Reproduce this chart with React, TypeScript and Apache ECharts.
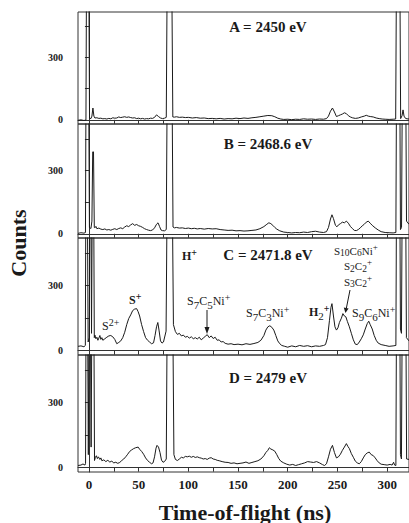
import React, { useEffect, useRef } from "react";
import * as echarts from "echarts";

// ---- data: [time-of-flight (ns), counts] ----
const seriesA: number[][] = [
  [-11,-2],[-8,0],[-5,-3],[-3,-1],[-2.3,900],[-0.3,900],[0.6,8],[2,6],[3,18],[4,57],[5,18],[6,9],[8,10],[10,7],[12,8],[14,5],[16,6],[18,4],[20,7],[22,5],[24,10],[26,8],[28,9],[30,14],[32,11],[34,13],[36,15],[38,12],[40,14],[42,11],[44,9],[46,10],[48,6],[50,8],[52,5],[54,7],[56,4],[58,6],[60,5],[62,8],[64,7],[66,12],[68,24],[70,16],[72,9],[74,6],[76,8],[77.8,12],[79,900],[83,900],[84.4,14],[86,13],[88,15],[91,12],[94,13],[97,11],[100,12],[104,9],[108,11],[112,8],[116,9],[120,6],[124,7],[128,5],[132,7],[136,4],[140,6],[144,5],[148,8],[152,6],[156,9],[160,7],[164,10],[168,12],[172,15],[176,18],[180,21],[184,20],[187,15],[190,8],[193,4],[196,2],[200,3],[204,1],[208,3],[212,2],[216,5],[220,3],[224,4],[228,2],[232,4],[236,3],[239,6],[241,18],[243,42],[245,57],[247,38],[249,16],[251,20],[253,24],[255,28],[257,34],[259,30],[261,20],[263,14],[265,10],[268,7],[271,9],[274,14],[277,18],[279,22],[281,18],[283,16],[286,14],[289,9],[292,6],[295,4],[298,3],[302,2],[306,3],[308.6,4],[309.6,900],[312.6,900],[313.6,6],[315,20],[316,48],[317,18],[318.5,7],[320,5],[322,4]
];
const seriesB: number[][] = [
  [-11,2],[-8,5],[-5,3],[-3.5,6],[-2.8,900],[-0.5,900],[0.5,30],[2,25],[3,60],[3.8,388],[4.6,388],[5.4,30],[6,28],[7,35],[8,24],[10,27],[12,22],[14,20],[16,23],[18,18],[20,20],[22,17],[24,21],[26,24],[28,20],[30,25],[32,28],[34,24],[36,32],[38,38],[40,34],[42,42],[44,48],[46,40],[48,44],[50,38],[52,35],[54,30],[56,24],[58,20],[60,17],[62,15],[64,18],[66,28],[68,45],[69.5,52],[71,35],[72.5,18],[74,15],[76,14],[77.8,20],[79,900],[83.3,900],[84.6,32],[86,28],[88,30],[91,27],[94,28],[97,25],[100,27],[103,24],[106,26],[109,23],[112,25],[116,22],[120,25],[124,23],[128,24],[132,20],[136,18],[140,16],[144,17],[148,14],[152,15],[156,13],[160,14],[164,16],[168,18],[172,24],[176,34],[179,45],[181,52],[183,48],[185,40],[187,30],[189,22],[192,14],[196,8],[200,6],[204,4],[208,6],[212,5],[216,8],[220,6],[224,10],[228,12],[232,8],[236,6],[239,10],[241,30],[243,70],[244.5,90],[246,72],[248,40],[249.5,33],[251,42],[253,48],[255,55],[257,52],[259,60],[261,50],[263,35],[265,25],[267,16],[269,15],[271,20],[273,28],[275,38],[277,45],[279,55],[281,60],[283,50],[285,40],[288,28],[291,18],[294,10],[298,6],[302,5],[306,4],[308.8,6],[309.6,900],[312.6,900],[313.4,20],[314.5,30],[315.5,900],[318.5,900],[319.5,60],[322,45]
];
const seriesC: number[][] = [
  [-11,20],[-8,22],[-5,18],[-3.6,24],[-3.0,900],[-1.8,900],[-0.8,40],[0.4,60],[1.0,900],[1.8,900],[2.6,80],[3.6,900],[4.6,900],[5.4,60],[6,72],[7,55],[8,62],[9,48],[10,58],[11,70],[12,52],[13,60],[14,48],[16,55],[18,62],[20,68],[22,70],[24,64],[26,52],[28,32],[30,38],[32,45],[34,60],[36,85],[38,120],[40,148],[42,165],[44,185],[46,192],[48,194],[49.5,180],[51,160],[53,120],[55,88],[57,60],[59,48],[61,40],[63,32],[65,36],[66.5,70],[68,110],[69.3,130],[70.5,95],[72,45],[73.5,35],[75,40],[77.6,90],[79,900],[83.5,900],[85,120],[87,88],[89,75],[91,80],[93,68],[95,72],[97,62],[99,66],[101,58],[103,64],[105,55],[107,60],[109,54],[111,62],[113,50],[115,58],[117,66],[119,74],[121,60],[123,68],[125,56],[127,62],[129,48],[131,50],[133,40],[135,42],[137,34],[140,30],[143,32],[146,28],[150,30],[154,27],[158,32],[162,29],[166,33],[170,38],[173,48],[176,70],[178,95],[180,110],[182,115],[184,108],[186,95],[188,70],[190,45],[192,32],[194,24],[197,20],[200,16],[204,22],[208,18],[212,24],[216,20],[220,23],[224,18],[228,22],[232,20],[236,24],[238,28],[240,60],[242,140],[243.5,200],[244.5,217],[246,160],[247.5,110],[249,95],[250.5,105],[252,130],[254,150],[255.5,171],[257,160],[258.5,156],[260,135],[262,110],[264,80],[266,50],[268,30],[270,28],[272,40],[274,55],[276,73],[278,100],[280,125],[281.5,136],[283,120],[285,100],[287,70],[289,48],[291,35],[294,28],[298,24],[302,20],[306,22],[308.8,24],[309.6,900],[312.6,900],[313.4,100],[314.4,80],[315.4,900],[318.4,900],[319.4,60],[322,45]
];
const seriesD: number[][] = [
  [-11,10],[-8,12],[-6,17],[-4,12],[-3.4,20],[-2.8,900],[-1.6,900],[-0.6,60],[0.2,900],[1.2,900],[2.2,95],[3.2,900],[4.8,900],[5.6,33],[6.5,48],[7.5,55],[8.5,42],[9.5,50],[11,38],[12,45],[13,32],[15,36],[17,28],[19,34],[21,26],[23,30],[25,22],[27,25],[29,20],[31,24],[33,33],[35,40],[37,50],[39,62],[41,75],[43,82],[45,88],[47,92],[49.5,95],[51,85],[53,75],[55,62],[57,45],[59,33],[61,25],[63,18],[64.5,22],[66,50],[67.5,90],[68.5,103],[70,95],[71.5,70],[73,35],[74.5,25],[76,28],[77.8,40],[79,900],[84,900],[85.5,60],[87,38],[89,33],[91,40],[93,48],[95,45],[97,52],[99,50],[101,53],[103,48],[105,52],[107,47],[109,50],[111,46],[113,44],[115,40],[117,42],[119,38],[121,44],[123,46],[125,40],[127,38],[129,34],[131,32],[134,28],[137,25],[140,24],[143,20],[146,22],[149,18],[152,20],[155,22],[158,26],[161,20],[164,24],[167,28],[170,32],[173,40],[176,55],[178,70],[180,80],[181.5,92],[183,86],[185,82],[187,76],[189,60],[191,42],[193,30],[196,22],[199,16],[202,12],[205,15],[208,10],[211,14],[214,18],[217,22],[220,28],[223,26],[226,24],[229,28],[232,22],[235,14],[237,10],[239,18],[241,50],[243,85],[245,103],[247,70],[249,45],[251,50],[253,62],[255,80],[257,95],[259,111],[260.5,98],[262,88],[264,65],[266,48],[268,30],[270,22],[272,18],[274,28],[276,45],[278,60],[280,68],[282,72],[284,60],[286,56],[288,45],[290,32],[292,22],[294,16],[297,14],[300,12],[303,15],[305,12],[306.5,25],[307.5,12],[308.8,10],[309.6,900],[312.6,900],[313.4,60],[314.4,40],[315.4,900],[318.6,900],[319.6,40],[322,38]
];

const panelLabels = ["A = 2450 eV", "B = 2468.6 eV", "C = 2471.8 eV", "D = 2479 eV"];
const xTicks = [0, 25, 50, 75, 100, 125, 150, 175, 200, 225, 250, 275, 300];
const xLabels = [0, 50, 100, 150, 200, 250, 300];
const yTicks = [0, 150, 300, 450];
const yLabels = [0, 300];
const xTitle = "Time-of-flight (ns)";
const yTitle = "Counts";

const SERIF = "Liberation Serif";
const INK = "#1a1a1a";

const panels = [
  { top: 12, height: 112 },
  { top: 124, height: 114 },
  { top: 238, height: 117 },
  { top: 355, height: 117 },
];

const rich = {
  n: { fontSize: 12, fontFamily: SERIF, fill: INK, padding: [0, 0, 3, 0], verticalAlign: "bottom" },
  b: { fontSize: 12, fontFamily: SERIF, fontWeight: "bold", fill: INK, padding: [0, 0, 3, 0], verticalAlign: "bottom" },
  d: { fontSize: 11, fontFamily: SERIF, fill: INK, padding: [0, 0, 0, 0], verticalAlign: "bottom" },
  p: { fontSize: 10, fontFamily: SERIF, fill: INK, padding: [0, 0, 8, 0], verticalAlign: "bottom" },
  pb: { fontSize: 10, fontFamily: SERIF, fontWeight: "bold", fill: INK, padding: [0, 0, 8, 0], verticalAlign: "bottom" },
  // tighter set for the stacked label column
  sn: { fontSize: 11, fontFamily: SERIF, fill: INK, padding: [0, 0, 2, 0], verticalAlign: "bottom" },
  sd: { fontSize: 9.5, fontFamily: SERIF, fill: INK, padding: [0, 0, 0, 0], verticalAlign: "bottom" },
  sp: { fontSize: 9, fontFamily: SERIF, fill: INK, padding: [0, 0, 7, 0], verticalAlign: "bottom" },
};

function ann(text: string, x: number, y: number) {
  return {
    type: "text",
    x,
    y,
    style: { text, rich, fontFamily: SERIF, fontSize: 12, fill: INK, align: "left", verticalAlign: "middle" },
  };
}

function plain(text: string, x: number, y: number, size: number, rotation = 0) {
  return {
    type: "text",
    x,
    y,
    rotation,
    style: { text, fontFamily: SERIF, fontWeight: "bold", fontSize: size, fill: INK, align: "center", verticalAlign: "middle" },
  };
}

export default function App() {
  const ref = useRef<HTMLDivElement>(null);
  useEffect(() => {
    if (!ref.current) return;
    const chart = echarts.init(ref.current, null, { renderer: "svg" });
    const data = [seriesA, seriesB, seriesC, seriesD];
    const option: any = {
      animation: false,
      backgroundColor: "#ffffff",
      textStyle: { fontFamily: SERIF },
      grid: panels.map((p) => ({
        left: 78,
        right: -2,
        top: p.top,
        height: p.height,
        show: true,
        borderColor: "#333",
        borderWidth: 1,
        backgroundColor: "transparent",
      })),
      xAxis: panels.map((_, i) => ({
        type: "value",
        gridIndex: i,
        min: -11,
        max: 322,
        axisLine: { show: true, lineStyle: { color: "#333", width: 1 } },
        axisTick: { show: true, customValues: xTicks, length: 4, lineStyle: { color: "#333" } },
        axisLabel:
          i === 3
            ? { show: true, customValues: xLabels, fontFamily: SERIF, fontWeight: "bold", fontSize: 13, color: INK, margin: 6 }
            : { show: false },
        splitLine: { show: false },
      })),
      yAxis: panels.map((_, i) => ({
        type: "value",
        gridIndex: i,
        min: -20,
        max: 520,
        axisLine: { show: true, lineStyle: { color: "#333", width: 1 } },
        axisTick: { show: true, customValues: yTicks, length: 4, lineStyle: { color: "#333" } },
        axisLabel: { show: true, customValues: yLabels, fontFamily: SERIF, fontWeight: "bold", fontSize: 10, color: INK, margin: 15 },
        splitLine: { show: false },
      })),
      series: data.map((d, i) => ({
        type: "line",
        xAxisIndex: i,
        yAxisIndex: i,
        data: d,
        showSymbol: false,
        symbol: "none",
        clip: true,
        lineStyle: { color: INK, width: 1 },
      })),
      graphic: [
        ...panelLabels.map((t, i) => plain(t, 268, [27, 144, 255, 378][i], 15)),
        plain(xTitle, 245, 512, 22),
        plain(yTitle, 18, 243, 22, Math.PI / 2),
        ann("{b|H}{pb|+}", 182, 256),
        ann("{n|S}{p|2+}", 102, 326),
        ann("{b|S}{pb|+}", 129, 300),
        ann("{n|S}{d|7}{n|C}{d|5}{n|Ni}{p|+}", 187, 301),
        ann("{n|S}{d|7}{n|C}{d|3}{n|Ni}{p|+}", 246, 313),
        ann("{b|H}{d|2}{pb|+}", 309, 312),
        ann("{sn|S}{sd|10}{sn|C}{sd|6}{sn|Ni}{sp|+}", 334, 250),
        ann("{sn|S}{sd|2}{sn|C}{sd|2}{sp|+}", 344, 265.5),
        ann("{sn|S}{sd|3}{sn|C}{sd|2}{sp|+}", 344, 281),
        ann("{n|S}{d|9}{n|C}{d|6}{n|Ni}{p|+}", 352, 313),
        { type: "line", shape: { x1: 207, y1: 310, x2: 207, y2: 329 }, style: { stroke: INK, lineWidth: 1 } },
        { type: "polygon", shape: { points: [[204.5, 327], [209.5, 327], [207, 334]] }, style: { fill: INK } },
        { type: "line", shape: { x1: 350, y1: 290, x2: 346.4, y2: 308 }, style: { stroke: INK, lineWidth: 1 } },
        { type: "polygon", shape: { points: [[348.6, 308.5], [343.8, 307.5], [345.4, 313]] }, style: { fill: INK } },
      ],
    };
    chart.setOption(option);
    return () => chart.dispose();
  }, []);
  return (
    <div
      ref={ref}
      style={{ position: "absolute", left: 0, top: 0, width: 409, height: 523, background: "#fff" }}
    />
  );
}
